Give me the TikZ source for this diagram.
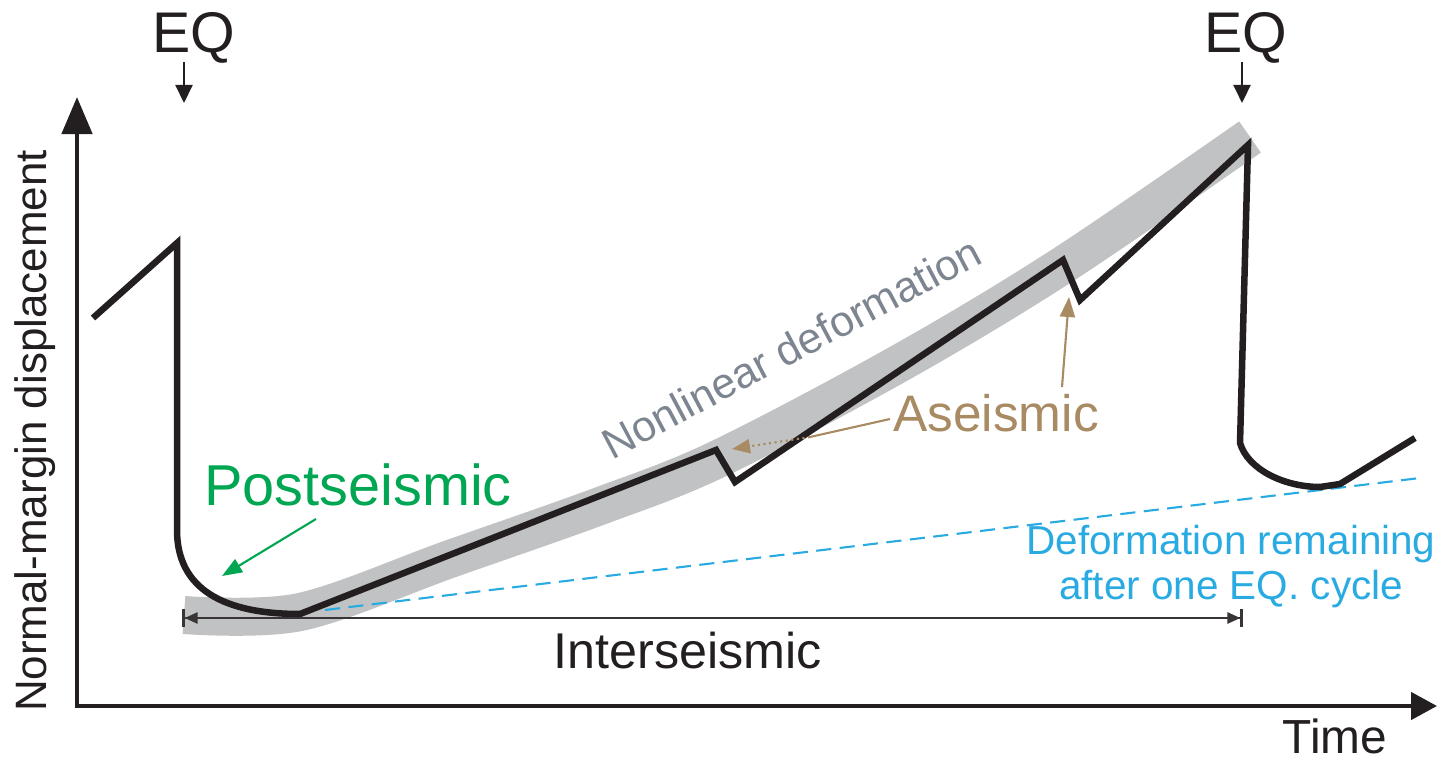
\documentclass[tikz,border=0pt]{standalone}
\usepackage{fontspec}
\setmainfont{Liberation Sans}
\usetikzlibrary{arrows.meta}
\definecolor{curveblack}{HTML}{231F20}
\definecolor{bandgray}{HTML}{C1C2C4}
\definecolor{psgreen}{HTML}{00A651}
\definecolor{asetan}{HTML}{A88A63}
\definecolor{nlgray}{HTML}{7D8590}
\definecolor{remblue}{HTML}{29ABE2}
\begin{document}
\begin{tikzpicture}[x=0.01cm,y=-0.01cm,
  axisline/.style={draw=curveblack,line width=1.3pt},
  curveline/.style={draw=curveblack,line width=1.85pt,line join=miter},
  band/.style={draw=bandgray,line width=0.38cm,line cap=butt},
  thinarrow/.style={line width=0.6pt},
  lbl/.style={inner sep=0pt,outer sep=0pt}]
\useasboundingbox (0,0) rectangle (1443,758);

% grey band (nonlinear trend)
\draw[band] plot[smooth,tension=0.55] coordinates {(184,615) (300,612) (450,559) (600,506) (718,459) (900,363) (1063,265) (1250,137)};

% blue dashed line
\coordinate (remA) at (325,610);
\coordinate (remB) at (1420,478);
\draw[remblue,line width=0.6pt,dash pattern=on 4.3pt off 2.4pt] (remA) -- (remB);

% axes
\coordinate (O) at (77,706);
\coordinate (ytop) at (77,97);
\coordinate (xend) at (1437,706);
\draw[axisline,{Triangle[length=0.37cm,width=0.30cm]}-{Triangle[length=0.26cm,width=0.27cm]}] (ytop) -- (O) -- (xend);

% main displacement curve
\coordinate (c0) at (93,318);
\coordinate (c1) at (177,243);
\coordinate (c2) at (177,530);
\coordinate (c3) at (300,614);
\coordinate (c4) at (716,450);
\coordinate (c5) at (735,482);
\coordinate (c6) at (1063,260);
\coordinate (c7) at (1080,300);
\coordinate (c8) at (1248,145);
\coordinate (c9) at (1240,443);
\coordinate (c10) at (1320,487);
\coordinate (c11) at (1340,484);
\coordinate (c12) at (1415,438);
\draw[curveline] (c0) -- (c1) -- (c2) .. controls (177,590) and (225,614) .. (c3)
  -- (c4) -- (c5) -- (c6) -- (c7) -- (c8) -- (c9)
  .. controls (1248,470) and (1285,487) .. (c10) -- (c11) -- (c12);

% interseismic span
\coordinate (intA) at (182,618);
\coordinate (intB) at (1243,618);
\draw[draw=curveblack!90,line width=0.75pt,
  {Bar[width=0.17cm]Triangle[length=0.13cm,width=0.11cm]}-{Triangle[length=0.13cm,width=0.11cm]Bar[width=0.17cm]}]
  (intA) -- (intB);
\node[lbl,anchor=base,font=\fontsize{14.3}{16}\selectfont,text=curveblack] (inter) at (688,668) {Interseismic};

% EQ labels and arrows
\node[lbl,anchor=base,font=\fontsize{16.3}{18}\selectfont,text=curveblack] (eqL) at (194,53) {EQ};
\node[lbl,anchor=base,font=\fontsize{16.3}{18}\selectfont,text=curveblack] (eqR) at (1246,53) {EQ};
\coordinate (eqLa) at (184,62);
\coordinate (eqLb) at (184,103);
\coordinate (eqRa) at (1242,62);
\coordinate (eqRb) at (1242,103);
\draw[curveblack,thinarrow,-{Triangle[length=0.18cm,width=0.17cm]}] (eqLa) -- (eqLb);
\draw[curveblack,thinarrow,-{Triangle[length=0.18cm,width=0.17cm]}] (eqRa) -- (eqRb);

% axis labels
\node[lbl,anchor=base,rotate=90,font=\fontsize{12.5}{14}\selectfont,text=curveblack] (ylab) at (47,431) {Normal-margin displacement};
\node[lbl,anchor=base,font=\fontsize{13.6}{15}\selectfont,text=curveblack] (xlab) at (1335,753) {Time};

% postseismic
\node[lbl,anchor=base,font=\fontsize{16.4}{18}\selectfont,text=psgreen] (post) at (358,505) {Postseismic};
\coordinate (postA) at (316,519);
\coordinate (postB) at (222,576);
\draw[psgreen,thinarrow,-{Triangle[length=0.2cm,width=0.15cm]}] (postA) -- (postB);

% nonlinear deformation
\node[lbl,anchor=base west,rotate=28,font=\fontsize{12.2}{14}\selectfont,text=nlgray] (nonlin) at (612,460) {Nonlinear deformation};

% aseismic
\node[lbl,anchor=base,font=\fontsize{14.6}{16}\selectfont,text=asetan] (ase) at (996,432) {Aseismic};
\coordinate (aseA) at (1062,387);
\coordinate (aseB) at (1069,297);
\draw[asetan,thinarrow,-{Triangle[length=0.2cm,width=0.15cm]}] (aseA) -- (aseB);
\coordinate (aseC) at (890,419);
\coordinate (aseD) at (810,437);
\coordinate (aseE) at (732,449);
\draw[asetan,thinarrow] (aseC) -- (aseD);
\draw[asetan,thinarrow,densely dotted,-{Triangle[length=0.18cm,width=0.14cm]}] (aseD) -- (aseE);

% remaining deformation label
\node[lbl,align=center,font=\fontsize{11.5}{12.8}\selectfont,text=remblue] (remain) at (1231,567) {Deformation remaining\\after one EQ. cycle};
\end{tikzpicture}
\end{document}
